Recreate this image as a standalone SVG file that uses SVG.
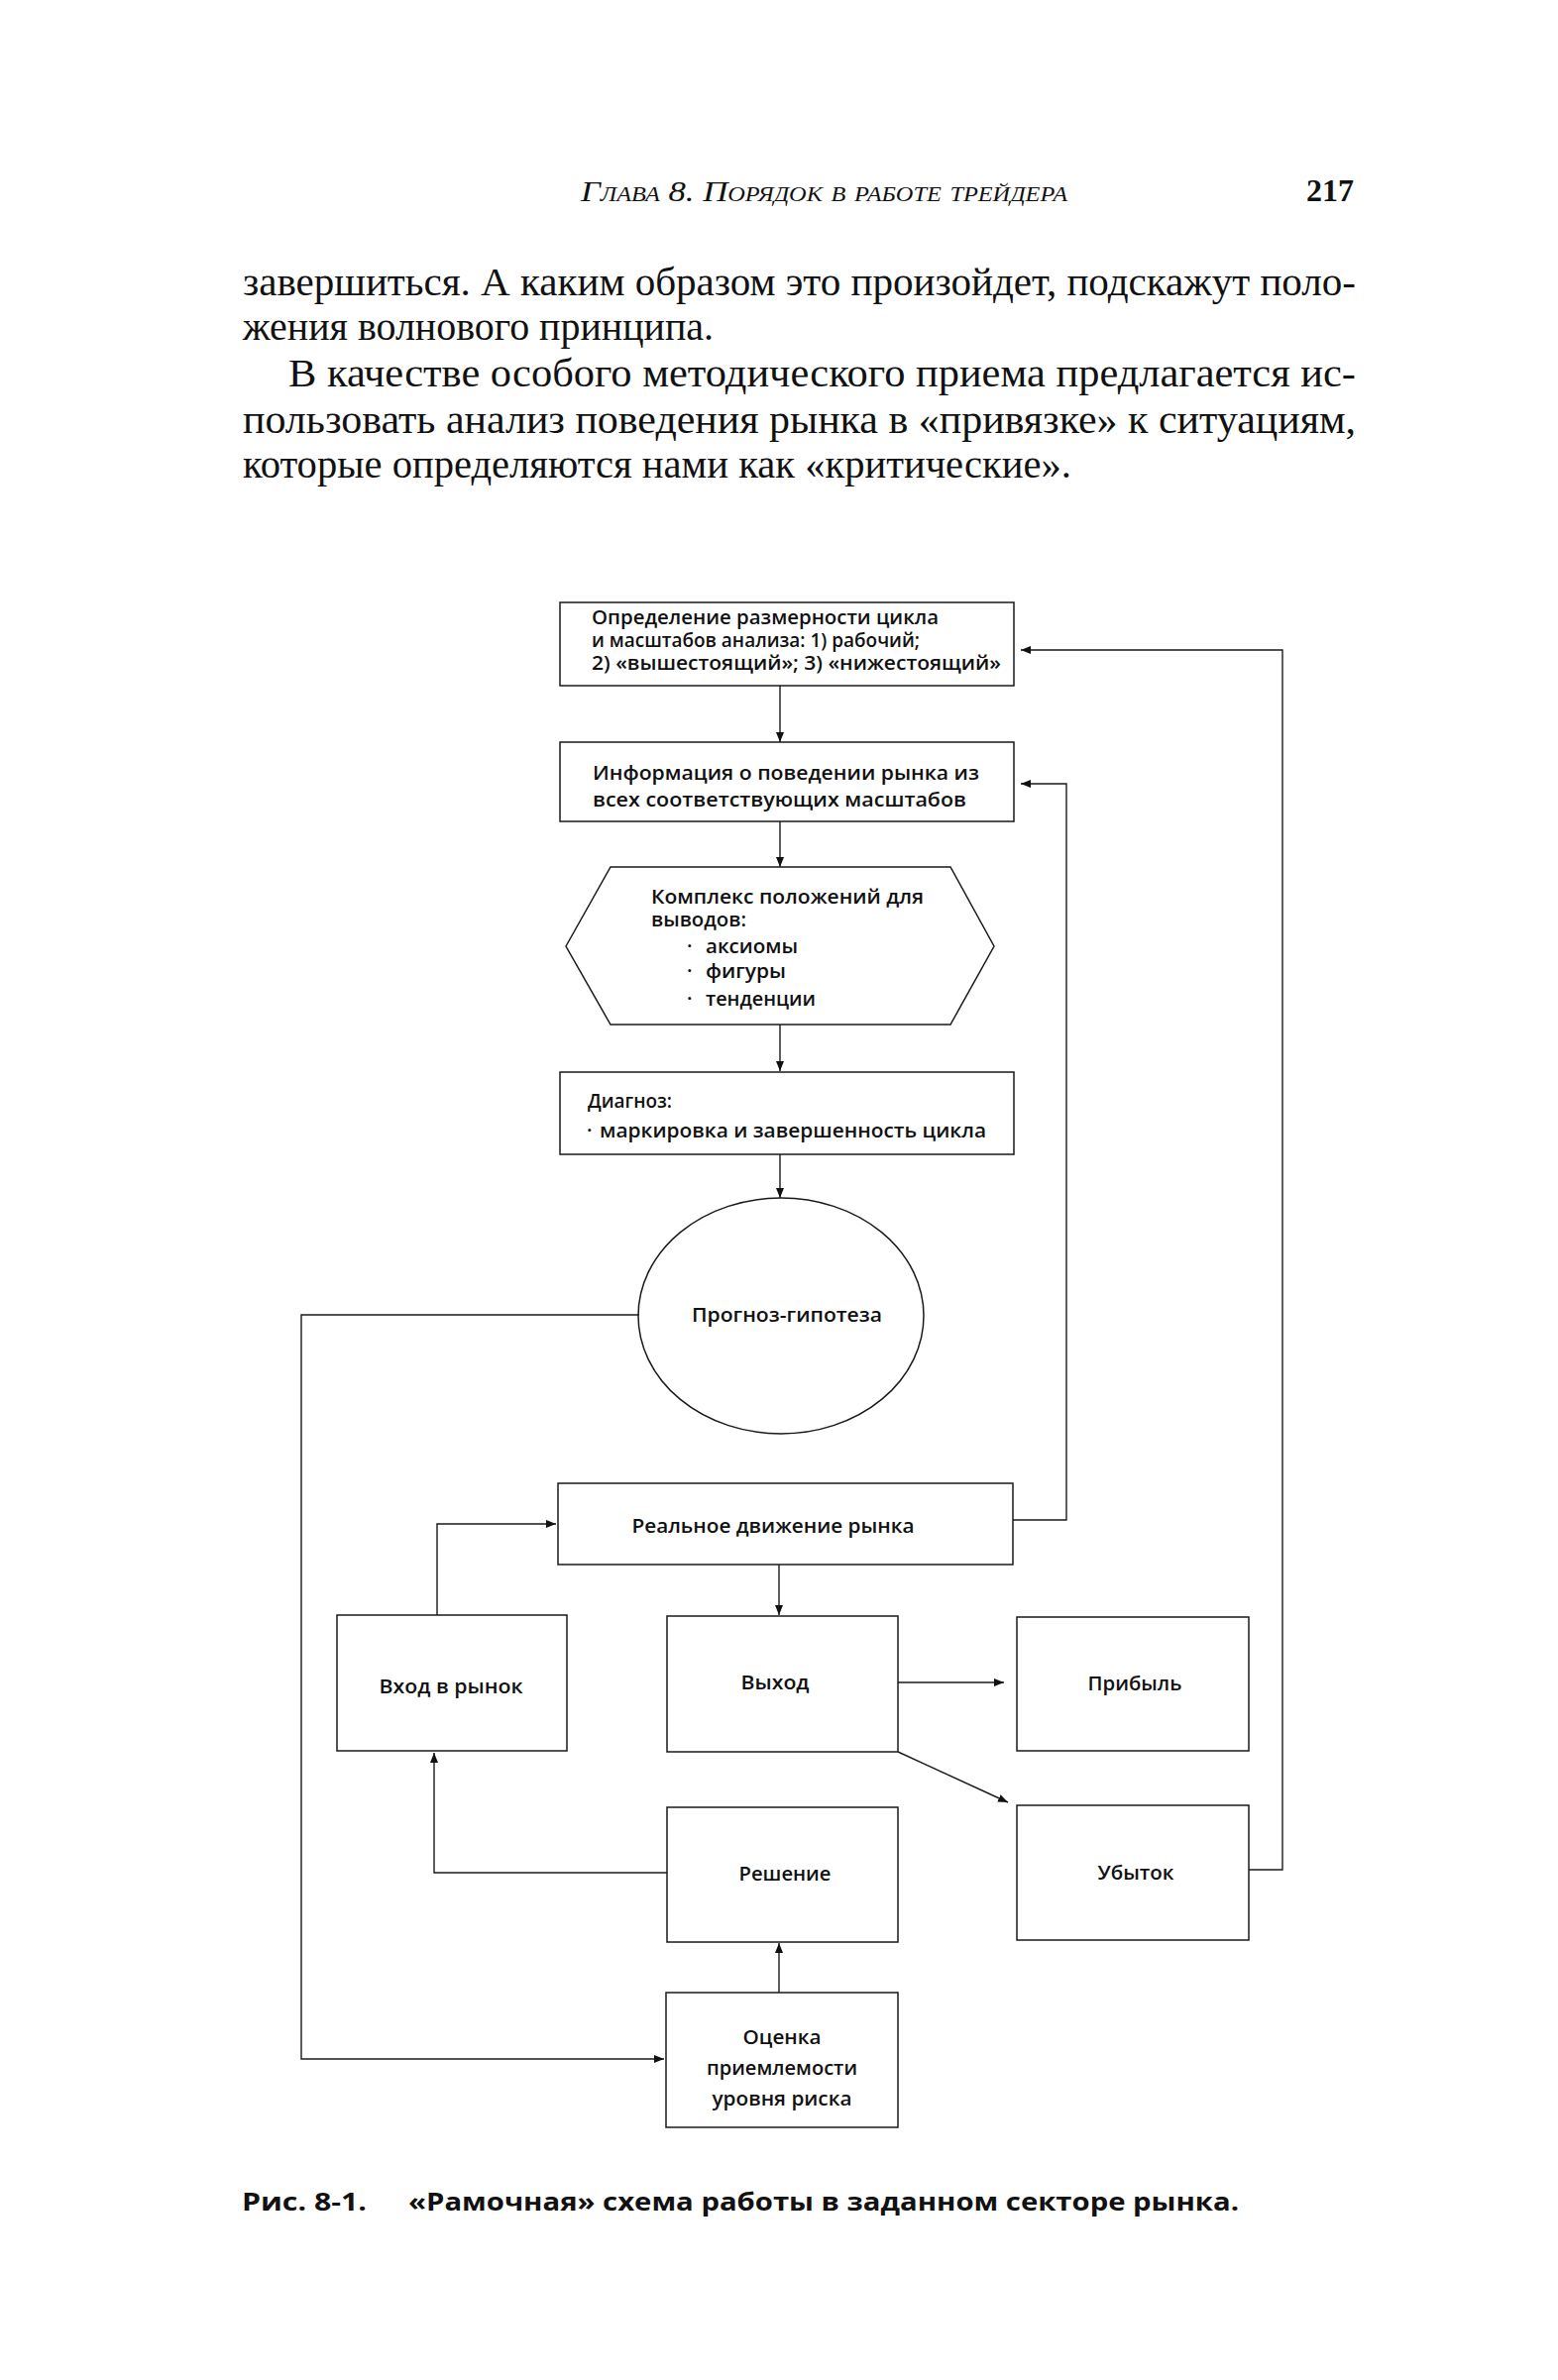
<svg xmlns="http://www.w3.org/2000/svg" width="1572" height="2402" viewBox="0 0 1572 2402">
<style>
.bg{fill:#fff}
.node{fill:none;stroke:#1a1a1a;stroke-width:1.5}
.edge{fill:none;stroke:#1a1a1a;stroke-width:1.4}
.t{font-family:"Open Sans","Noto Sans","DejaVu Sans",sans-serif;font-weight:600;fill:#111;font-size:20px}
.tc{text-anchor:middle}
.body{font-family:"Liberation Serif","Times New Roman",serif;font-size:40px;fill:#111}
.head{font-family:"Liberation Serif","Times New Roman",serif;font-style:italic;font-variant:small-caps;font-size:30px;fill:#111}
.pg{font-family:"Liberation Serif","Times New Roman",serif;font-weight:bold;font-size:32px;fill:#111}
.cap{font-family:"Open Sans","Noto Sans",sans-serif;font-weight:bold;font-size:25px;fill:#111}
</style>
<defs>
<marker id="ah" viewBox="0 0 10 8" refX="10" refY="4" markerWidth="10" markerHeight="8" markerUnits="userSpaceOnUse" orient="auto">
<path d="M0,0 L10,4 L0,8 Z" fill="#111"/>
</marker>
</defs>
<rect class="bg" x="0" y="0" width="1572" height="2402"/>

<g id="page-text">
<text class="head" x="586" y="203" textLength="491" lengthAdjust="spacingAndGlyphs">Глава 8. Порядок в работе трейдера</text>
<text class="pg" x="1366" y="203" text-anchor="end">217</text>
<text class="body" x="245" y="298" textLength="1123" lengthAdjust="spacingAndGlyphs">завершиться. А каким образом это произойдет, подскажут поло-</text>
<text class="body" x="245" y="343" textLength="475" lengthAdjust="spacingAndGlyphs">жения волнового принципа.</text>
<text class="body" x="291" y="390" textLength="1077" lengthAdjust="spacingAndGlyphs">В качестве особого методического приема предлагается ис-</text>
<text class="body" x="245" y="437" textLength="1123" lengthAdjust="spacingAndGlyphs">пользовать анализ поведения рынка в «привязке» к ситуациям,</text>
<text class="body" x="245" y="482" textLength="836" lengthAdjust="spacingAndGlyphs">которые определяются нами как «критические».</text>
</g>

<g id="connectors">
<line class="edge" x1="787" y1="692" x2="787" y2="749" marker-end="url(#ah)"/>
<line class="edge" x1="787" y1="829" x2="787" y2="875" marker-end="url(#ah)"/>
<line class="edge" x1="787" y1="1034" x2="787" y2="1081" marker-end="url(#ah)"/>
<line class="edge" x1="787" y1="1165" x2="787" y2="1209" marker-end="url(#ah)"/>
<polyline class="edge" points="645,1327 304,1327 304,2078 670,2078" marker-end="url(#ah)"/>
<polyline class="edge" points="1022,1534 1076,1534 1076,791 1030,791" marker-end="url(#ah)"/>
<polyline class="edge" points="1260,1887 1294,1887 1294,656 1030,656" marker-end="url(#ah)"/>
<polyline class="edge" points="441,1630 441,1538 561,1538" marker-end="url(#ah)"/>
<line class="edge" x1="786" y1="1579" x2="786" y2="1630" marker-end="url(#ah)"/>
<line class="edge" x1="906" y1="1698" x2="1013" y2="1698" marker-end="url(#ah)"/>
<line class="edge" x1="906" y1="1768" x2="1017" y2="1819" marker-end="url(#ah)"/>
<polyline class="edge" points="673,1890 438,1890 438,1769" marker-end="url(#ah)"/>
<line class="edge" x1="786" y1="2011" x2="786" y2="1961" marker-end="url(#ah)"/>
</g>

<g id="n-cycle">
<rect class="node" x="565" y="608" width="458" height="84"/>
<text class="t" x="597" y="630" font-size="19.5" textLength="350" lengthAdjust="spacingAndGlyphs">Определение размерности цикла</text>
<text class="t" x="597" y="653" font-size="19.5" textLength="331" lengthAdjust="spacingAndGlyphs">и масштабов анализа: 1) рабочий;</text>
<text class="t" x="597" y="676" font-size="19.5" textLength="413" lengthAdjust="spacingAndGlyphs">2) «вышестоящий»; 3) «нижестоящий»</text>
</g>

<g id="n-info">
<rect class="node" x="565" y="749" width="458" height="80"/>
<text class="t" x="598" y="787" font-size="21" textLength="390" lengthAdjust="spacingAndGlyphs">Информация о поведении рынка из</text>
<text class="t" x="598" y="814" font-size="21" textLength="377" lengthAdjust="spacingAndGlyphs">всех соответствующих масштабов</text>
</g>

<g id="n-complex">
<polygon class="node" points="571,955 616,875 959,875 1003,955 959,1034 616,1034"/>
<text class="t" x="657" y="912" textLength="275" lengthAdjust="spacingAndGlyphs">Комплекс положений для</text>
<text class="t" x="657" y="935" textLength="96" lengthAdjust="spacingAndGlyphs">выводов:</text>
<text class="t" x="693" y="962">·</text>
<text class="t" x="712" y="962" textLength="93" lengthAdjust="spacingAndGlyphs">аксиомы</text>
<text class="t" x="693" y="987">·</text>
<text class="t" x="712" y="987" textLength="81" lengthAdjust="spacingAndGlyphs">фигуры</text>
<text class="t" x="693" y="1015">·</text>
<text class="t" x="712" y="1015" textLength="111" lengthAdjust="spacingAndGlyphs">тенденции</text>
</g>

<g id="n-diag">
<rect class="node" x="565" y="1082" width="458" height="83"/>
<text class="t" x="593" y="1118" textLength="85" lengthAdjust="spacingAndGlyphs">Диагноз:</text>
<text class="t" x="592" y="1148">·</text>
<text class="t" x="605" y="1148" textLength="390" lengthAdjust="spacingAndGlyphs">маркировка и завершенность цикла</text>
</g>

<g id="n-forecast">
<ellipse class="node" cx="788" cy="1328" rx="144" ry="119"/>
<text class="t tc" x="794" y="1334" textLength="192" lengthAdjust="spacingAndGlyphs">Прогноз-гипотеза</text>
</g>

<g id="n-real">
<rect class="node" x="563" y="1497" width="459" height="82"/>
<text class="t tc" x="780" y="1547" textLength="285" lengthAdjust="spacingAndGlyphs">Реальное движение рынка</text>
</g>

<g id="n-entry">
<rect class="node" x="340" y="1630" width="232" height="137"/>
<text class="t tc" x="455" y="1709" textLength="145" lengthAdjust="spacingAndGlyphs">Вход в рынок</text>
</g>

<g id="n-exit">
<rect class="node" x="673" y="1631" width="233" height="137"/>
<text class="t tc" x="782" y="1705" textLength="69" lengthAdjust="spacingAndGlyphs">Выход</text>
</g>

<g id="n-profit">
<rect class="node" x="1026" y="1632" width="234" height="135"/>
<text class="t tc" x="1145" y="1706" textLength="95" lengthAdjust="spacingAndGlyphs">Прибыль</text>
</g>

<g id="n-loss">
<rect class="node" x="1026" y="1822" width="234" height="136"/>
<text class="t tc" x="1146" y="1897" textLength="77" lengthAdjust="spacingAndGlyphs">Убыток</text>
</g>

<g id="n-decision">
<rect class="node" x="673" y="1824" width="233" height="136"/>
<text class="t tc" x="792" y="1898" textLength="93" lengthAdjust="spacingAndGlyphs">Решение</text>
</g>

<g id="n-risk">
<rect class="node" x="672" y="2011" width="234" height="136"/>
<text class="t tc" x="789" y="2063" textLength="79" lengthAdjust="spacingAndGlyphs">Оценка</text>
<text class="t tc" x="789" y="2094" textLength="152" lengthAdjust="spacingAndGlyphs">приемлемости</text>
<text class="t tc" x="789" y="2125" textLength="141" lengthAdjust="spacingAndGlyphs">уровня риска</text>
</g>

<g id="caption">
<text class="cap" x="244" y="2231" textLength="126" lengthAdjust="spacingAndGlyphs">Рис. 8-1.</text>
<text class="cap" x="412" y="2231" textLength="838" lengthAdjust="spacingAndGlyphs">«Рамочная» схема работы в заданном секторе рынка.</text>
</g>
</svg>
